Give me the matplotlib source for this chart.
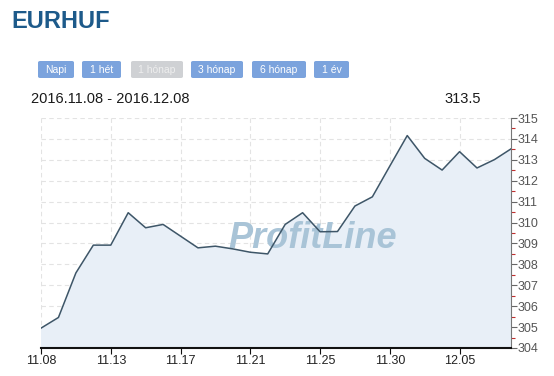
import matplotlib
matplotlib.use("Agg")
import matplotlib.pyplot as plt
from matplotlib.patches import FancyBboxPatch
from matplotlib.ticker import MultipleLocator, FixedLocator

# ---- data ----
values = [304.95, 305.46, 307.59, 308.92, 308.92, 310.47, 309.75, 309.91,
          309.35, 308.79, 308.87, 308.74, 308.58, 308.50, 309.91, 310.47,
          309.56, 309.57, 310.79, 311.23, 312.70, 314.16, 313.07, 312.51,
          313.39, 312.61, 313.01, 313.55]
tick_pos = [0, 4, 8, 12, 16, 20, 24]
tick_labels = ["11.08", "11.13", "11.17", "11.21", "11.25", "11.30", "12.05"]
y_ticks = list(range(304, 316))
buttons = ["Napi", "1 hét", "1 hónap", "3 hónap", "6 hónap", "1 év"]
button_active = [True, True, False, True, True, True]
title = "EURHUF"
date_range = "2016.11.08 - 2016.12.08"
last_value = "313.5"

W, H = 554, 376
fig = plt.figure(figsize=(W / 100, H / 100), dpi=100)
fig.patch.set_facecolor("white")
plt.rcParams['font.family'] = ['Liberation Sans', 'DejaVu Sans']

def fx(px):
    return px / W

def fy(py):
    return 1 - py / H

# title
fig.text(fx(11), fy(22), title, fontsize=17, fontweight="bold",
         color="#1d5a8a", va="center", ha="left")

# buttons
btn_x = [(38, 74), (82, 121), (131, 183), (191, 243), (252, 306), (314, 349)]
for (x0, x1), lab, act in zip(btn_x, buttons, button_active):
    face = "#7ba3dd" if act else "#cfd1d4"
    tcol = "white" if act else "#eeeeee"
    p = FancyBboxPatch((fx(x0), fy(78)), fx(x1 - x0), (78 - 61) / H,
                       boxstyle="round,pad=0,rounding_size=0.004",
                       transform=fig.transFigure, facecolor=face,
                       edgecolor="none")
    fig.patches.append(p)
    fig.text(fx((x0 + x1) / 2), fy(70), lab, fontsize=7.5, color=tcol,
             ha="center", va="center")

fig.text(fx(31), fy(99), date_range, fontsize=10.5, color="#1a1a1a",
         ha="left", va="center")
fig.text(fx(481), fy(99), last_value, fontsize=10.5, color="#1a1a1a",
         ha="right", va="center")

# axes
L, R, T, B = 41, 511, 118, 348
ax = fig.add_axes([fx(L), fy(B), fx(R - L), (B - T) / H])
ax.set_facecolor("white")
x = list(range(len(values)))
ax.fill_between(x, values, 304, color="#e8eff7", zorder=1)
ax.plot(x, values, color="#3e5668", lw=1.1, zorder=3)

ax.text(0.577, 0.478, "ProfitLine", transform=ax.transAxes, fontsize=26,
        fontweight="bold", fontstyle="italic", color="#a9c4d7",
        ha="center", va="center", zorder=2)

ax.set_xlim(0, len(values) - 1.05)
ax.set_ylim(304, 315)

ax.xaxis.set_major_locator(FixedLocator(tick_pos))
ax.set_xticklabels(tick_labels)
ax.yaxis.set_major_locator(FixedLocator(y_ticks))
ax.yaxis.set_minor_locator(MultipleLocator(0.5))
ax.yaxis.tick_right()

ax.grid(True, which="major", color="#e3e3e3", lw=0.8, ls=(0, (4, 3)), zorder=0)
ax.set_axisbelow(True)

for s in ["top", "left"]:
    ax.spines[s].set_visible(False)
ax.spines["bottom"].set_color("#111111")
ax.spines["bottom"].set_linewidth(1.5)
ax.spines["right"].set_color("#777777")
ax.spines["right"].set_linewidth(0.8)

ax.tick_params(axis="x", direction="out", length=4, width=0.8,
               colors="#111111", labelsize=9, labelcolor="#222222", pad=1)
ax.tick_params(axis="y", which="major", direction="out", length=4, width=0.8,
               colors="#666666", labelsize=9, labelcolor="#555555", pad=1)
ax.tick_params(axis="y", which="minor", direction="out", length=3, width=0.8,
               colors="#c03030")

fig.savefig("out.png", dpi=100, facecolor="white")
